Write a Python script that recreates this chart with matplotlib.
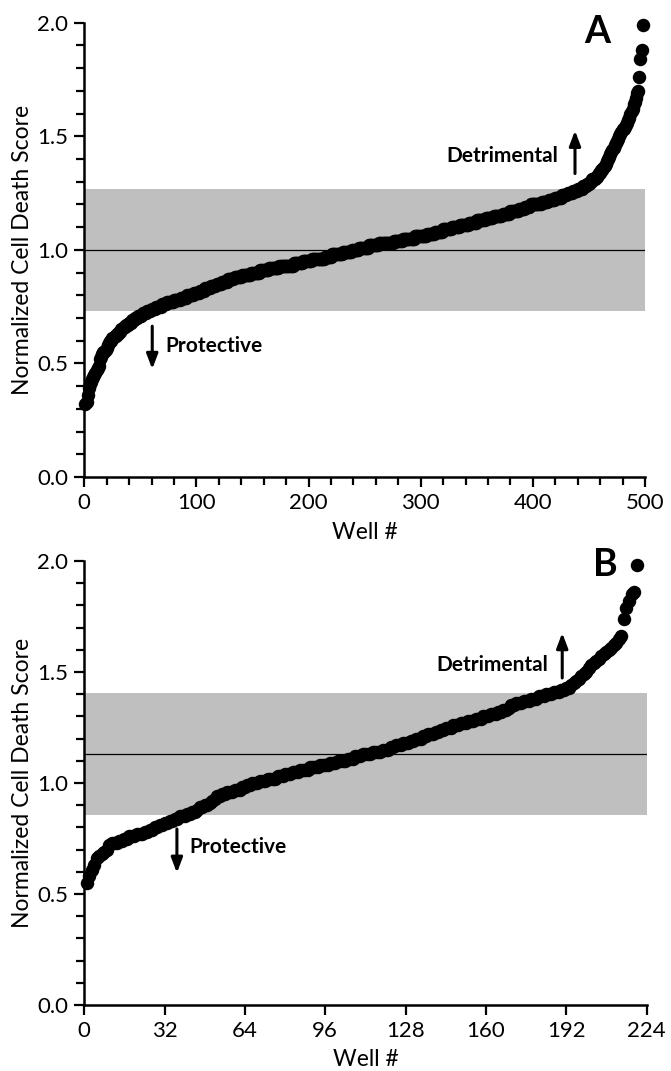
"""Sorted cell death scores per well, two screens (A, B)."""

import matplotlib
matplotlib.use("Agg")  # non-interactive backend
import matplotlib.pyplot as plt
from matplotlib.ticker import MultipleLocator, FormatStrFormatter

plt.rcParams["font.family"] = ["Lato", "DejaVu Sans"]

# ---- panel A: normalized cell death score, wells sorted by score ----
score_a = [
    0.32, 0.33, 0.36, 0.39, 0.41, 0.42, 0.43, 0.44, 0.45, 0.46, 0.47, 0.48, 0.49,
    0.52, 0.53, 0.54, 0.55, 0.55, 0.56, 0.57, 0.58, 0.59, 0.60, 0.60, 0.61,
    0.61, 0.62, 0.62, 0.63, 0.63, 0.64, 0.64, 0.65, 0.65, 0.66, 0.66, 0.67, 0.67, 0.67, 0.68, 0.68,
    0.68, 0.69, 0.69, 0.70, 0.70, 0.70, 0.71, 0.71, 0.71, 0.71, 0.72, 0.72, 0.72, 0.72, 0.73,
    0.73, 0.73, 0.73, 0.74, 0.74, 0.74, 0.74, 0.75, 0.75, 0.75, 0.75, 0.75, 0.76, 0.76, 0.76,
    0.76, 0.76, 0.77, 0.77, 0.77, 0.77, 0.77, 0.77, 0.78, 0.78, 0.78, 0.78, 0.78, 0.78, 0.79,
    0.79, 0.79, 0.79, 0.79, 0.79, 0.80, 0.80, 0.80, 0.80, 0.80, 0.80, 0.81, 0.81, 0.81, 0.81,
    0.81, 0.82, 0.82, 0.82, 0.82, 0.82, 0.83, 0.83, 0.83, 0.83, 0.83, 0.84, 0.84, 0.84, 0.84,
    0.84, 0.85, 0.85, 0.85, 0.85,
    0.85, 0.86, 0.86, 0.86, 0.86, 0.86, 0.87, 0.87, 0.87, 0.87, 0.87, 0.87, 0.88,
    0.88, 0.88, 0.88, 0.88, 0.88, 0.88, 0.89, 0.89, 0.89, 0.89, 0.89, 0.89, 0.89, 0.89, 0.90,
    0.90, 0.90, 0.90, 0.90, 0.90, 0.90, 0.90, 0.91, 0.91, 0.91, 0.91, 0.91, 0.91, 0.91, 0.91,
    0.92, 0.92, 0.92, 0.92, 0.92, 0.92, 0.92, 0.92, 0.92, 0.93, 0.93, 0.93, 0.93, 0.93, 0.93,
    0.93, 0.93, 0.93, 0.93, 0.93, 0.93, 0.93, 0.94, 0.94, 0.94, 0.94, 0.94, 0.94, 0.94, 0.94,
    0.95, 0.95, 0.95, 0.95, 0.95, 0.95, 0.95, 0.95, 0.96, 0.96, 0.96, 0.96, 0.96, 0.96, 0.96,
    0.96, 0.96, 0.96, 0.96, 0.96, 0.97, 0.97, 0.97, 0.97, 0.97, 0.97, 0.98, 0.98, 0.98,
    0.98, 0.98, 0.98, 0.98, 0.98, 0.98, 0.98, 0.99, 0.99, 0.99, 0.99, 0.99, 0.99, 0.99, 0.99,
    1.00, 1.00, 1.00, 1.00, 1.00, 1.00, 1.01, 1.01, 1.01, 1.01, 1.01, 1.01, 1.01, 1.01, 1.01,
    1.02, 1.02, 1.02, 1.02, 1.02, 1.02, 1.02, 1.02, 1.02, 1.03, 1.03, 1.03, 1.03, 1.03, 1.03,
    1.03, 1.03, 1.03, 1.03, 1.03, 1.03, 1.03, 1.04, 1.04, 1.04, 1.04, 1.04, 1.04, 1.04, 1.04,
    1.05, 1.05, 1.05, 1.05, 1.05, 1.05, 1.05, 1.05, 1.05, 1.05, 1.05, 1.06, 1.06, 1.06, 1.06,
    1.06, 1.06, 1.06, 1.06, 1.06, 1.06, 1.06, 1.07, 1.07, 1.07, 1.07, 1.07, 1.07, 1.07,
    1.08, 1.08, 1.08, 1.08, 1.08, 1.08, 1.08, 1.09, 1.09, 1.09, 1.09, 1.09, 1.09, 1.09, 1.09,
    1.10, 1.10, 1.10, 1.10, 1.10, 1.10, 1.10, 1.11, 1.11, 1.11, 1.11, 1.11, 1.11, 1.11, 1.11,
    1.12, 1.12, 1.12, 1.12, 1.12, 1.12, 1.12, 1.13, 1.13, 1.13, 1.13, 1.13, 1.13, 1.13, 1.13,
    1.14, 1.14, 1.14, 1.14, 1.14, 1.14, 1.14, 1.15, 1.15, 1.15, 1.15, 1.15, 1.15, 1.15, 1.15,
    1.16, 1.16, 1.16, 1.16, 1.16, 1.16, 1.16, 1.17, 1.17, 1.17, 1.17, 1.17, 1.17, 1.17, 1.17,
    1.18, 1.18, 1.18, 1.18, 1.18, 1.19, 1.19, 1.19, 1.19, 1.19, 1.20, 1.20, 1.20, 1.20,
    1.20, 1.20, 1.20, 1.20, 1.20, 1.20, 1.21, 1.21, 1.21, 1.21, 1.21, 1.21,
    1.22, 1.22, 1.22, 1.22, 1.22, 1.22, 1.23, 1.23, 1.23, 1.23, 1.23, 1.23,
    1.24, 1.24, 1.24, 1.24, 1.24, 1.25, 1.25, 1.25, 1.25, 1.25,
    1.26, 1.26, 1.26, 1.26, 1.27, 1.27, 1.27, 1.27,
    1.27, 1.28, 1.28, 1.28, 1.29, 1.29, 1.29, 1.30,
    1.30, 1.31, 1.31, 1.31, 1.32, 1.32, 1.33,
    1.34, 1.34, 1.35, 1.35, 1.36, 1.37, 1.38, 1.39, 1.40,
    1.41, 1.42, 1.43, 1.44, 1.45, 1.46, 1.47, 1.48, 1.49,
    1.50, 1.51, 1.52, 1.53, 1.53, 1.54, 1.55, 1.56, 1.57, 1.58, 1.60, 1.61, 1.62,
    1.64, 1.65, 1.67, 1.69, 1.70, 1.76, 1.84, 1.88, 1.99,
]
band_a = (0.73, 1.27)   # grey region: mean +/- band
mean_a = 1.0
xticks_a = [0, 100, 200, 300, 400, 500]

# ---- panel B ----
score_b = [
    0.55, 0.58, 0.61, 0.63, 0.66, 0.67, 0.68, 0.69, 0.70, 0.72, 0.73, 0.73,
    0.73, 0.74, 0.74, 0.75, 0.75, 0.76, 0.76, 0.76, 0.77, 0.77, 0.77, 0.78,
    0.78, 0.79, 0.79, 0.80, 0.80, 0.81, 0.81, 0.82, 0.82, 0.83, 0.83, 0.84,
    0.84, 0.85, 0.85, 0.85, 0.86, 0.86, 0.87, 0.87, 0.88, 0.89, 0.89, 0.90,
    0.90, 0.91, 0.92, 0.93, 0.94, 0.94, 0.95, 0.95, 0.96, 0.96, 0.96, 0.97,
    0.97, 0.97, 0.98, 0.98, 0.99, 0.99, 1.00, 1.00, 1.00, 1.01, 1.01, 1.01,
    1.02, 1.02, 1.02, 1.02, 1.03, 1.03, 1.03, 1.04, 1.04, 1.04, 1.05, 1.05,
    1.05, 1.06, 1.06, 1.06, 1.06, 1.07, 1.07, 1.07, 1.07, 1.08, 1.08, 1.08,
    1.08, 1.09, 1.09, 1.09, 1.10, 1.10, 1.10, 1.10, 1.11, 1.11, 1.11, 1.12,
    1.12, 1.12, 1.13, 1.13, 1.13, 1.13, 1.14, 1.14, 1.14, 1.14, 1.15, 1.15,
    1.15, 1.16, 1.16, 1.17, 1.17, 1.17, 1.18, 1.18, 1.18, 1.19, 1.19, 1.20,
    1.20, 1.20, 1.21, 1.21, 1.22, 1.22, 1.22, 1.23, 1.23, 1.24, 1.24, 1.25,
    1.25, 1.25, 1.26, 1.26, 1.26, 1.27, 1.27, 1.27, 1.28, 1.28, 1.28, 1.29,
    1.29, 1.29, 1.30, 1.30, 1.30, 1.31, 1.31, 1.31, 1.32, 1.32, 1.33, 1.33,
    1.34, 1.35, 1.35, 1.36, 1.36, 1.36, 1.37, 1.37, 1.37, 1.38, 1.38, 1.38,
    1.39, 1.39, 1.39, 1.40, 1.40, 1.40, 1.41, 1.41, 1.41, 1.42, 1.42, 1.43,
    1.43, 1.44, 1.45, 1.46, 1.47, 1.48, 1.49, 1.50, 1.52, 1.53, 1.54, 1.55,
    1.56, 1.57, 1.58, 1.59, 1.60, 1.61, 1.62, 1.63, 1.65, 1.66, 1.74, 1.79,
    1.82, 1.85, 1.86, 1.98,
]
band_b = (0.855, 1.405)
mean_b = 1.13
xticks_b = [0, 32, 64, 96, 128, 160, 192, 224]

BAND_COLOR = "#bfbfbf"
TICK_FS = 16
LABEL_FS = 16.5


def draw_arrow(ax, x, y_from, y_to):
    ax.annotate("", xy=(x, y_to), xytext=(x, y_from),
                arrowprops=dict(arrowstyle="-|>,head_length=0.45,head_width=0.17",
                                mutation_scale=20, lw=2.2, color="black",
                                shrinkA=0, shrinkB=0))


def draw_panel(ax, scores, band, mean, xticks, xminor, letter, letter_xy,
               det_xy, det_arrow, prot_xy, prot_arrow):
    wells = list(range(1, len(scores) + 1))
    ax.axhspan(band[0], band[1], color=BAND_COLOR, lw=0, zorder=0)
    ax.axhline(mean, color="black", lw=0.9, zorder=1)
    ax.plot(wells, scores, "o", color="black", ms=9.7, mew=0,
            clip_on=False, zorder=3)

    ax.set_xlim(xticks[0], xticks[-1])
    ax.set_ylim(0, 2.0)
    ax.set_xticks(xticks)
    if xminor:
        ax.xaxis.set_minor_locator(MultipleLocator(xminor))
    ax.yaxis.set_major_locator(MultipleLocator(0.5))
    ax.yaxis.set_minor_locator(MultipleLocator(0.1))
    ax.yaxis.set_major_formatter(FormatStrFormatter("%.1f"))

    for side in ("top", "right"):
        ax.spines[side].set_visible(False)
    for side in ("left", "bottom"):
        ax.spines[side].set_linewidth(1.8)
        ax.spines[side].set_zorder(4)
    ax.tick_params(which="major", direction="out", length=7.5, width=1.6,
                   labelsize=TICK_FS, pad=4)
    ax.tick_params(which="minor", direction="out", length=5.5, width=1.6)

    ax.set_xlabel("Well #", fontsize=LABEL_FS)
    ax.set_ylabel("Normalized Cell Death Score", fontsize=LABEL_FS)
    ax.xaxis.set_label_coords(0.5, -0.122)
    ax.xaxis.label.set_verticalalignment("center")
    ax.yaxis.set_label_coords(-0.11, 0.5)
    ax.yaxis.label.set_verticalalignment("center")

    ax.text(letter_xy[0], letter_xy[1], letter, fontsize=27, fontweight="bold",
            ha="center", va="center")
    ax.text(det_xy[0], det_xy[1], "Detrimental", fontsize=15, fontweight="bold",
            ha="right", va="center")
    draw_arrow(ax, *det_arrow)
    ax.text(prot_xy[0], prot_xy[1], "Protective", fontsize=15, fontweight="bold",
            ha="left", va="center")
    draw_arrow(ax, *prot_arrow)


fig = plt.figure(figsize=(6.71, 10.71), dpi=100)
ax_a = fig.add_axes([0.1256, 0.5546, 0.8356, 0.4242])
ax_b = fig.add_axes([0.1256, 0.0616, 0.8380, 0.4146])

draw_panel(ax_a, score_a, band_a, mean_a, xticks_a, 20, "A", (457, 1.96),
           (423, 1.415), (437.6, 1.336, 1.525), (72, 0.577), (60.6, 0.664, 0.475))
draw_panel(ax_b, score_b, band_b, mean_b, xticks_b, None, "B", (207.4, 1.98),
           (184.7, 1.53), (190.4, 1.473, 1.676), (41.7, 0.712), (36.9, 0.793, 0.595))

fig.savefig("out.png", dpi=100)
plt.close("all")
